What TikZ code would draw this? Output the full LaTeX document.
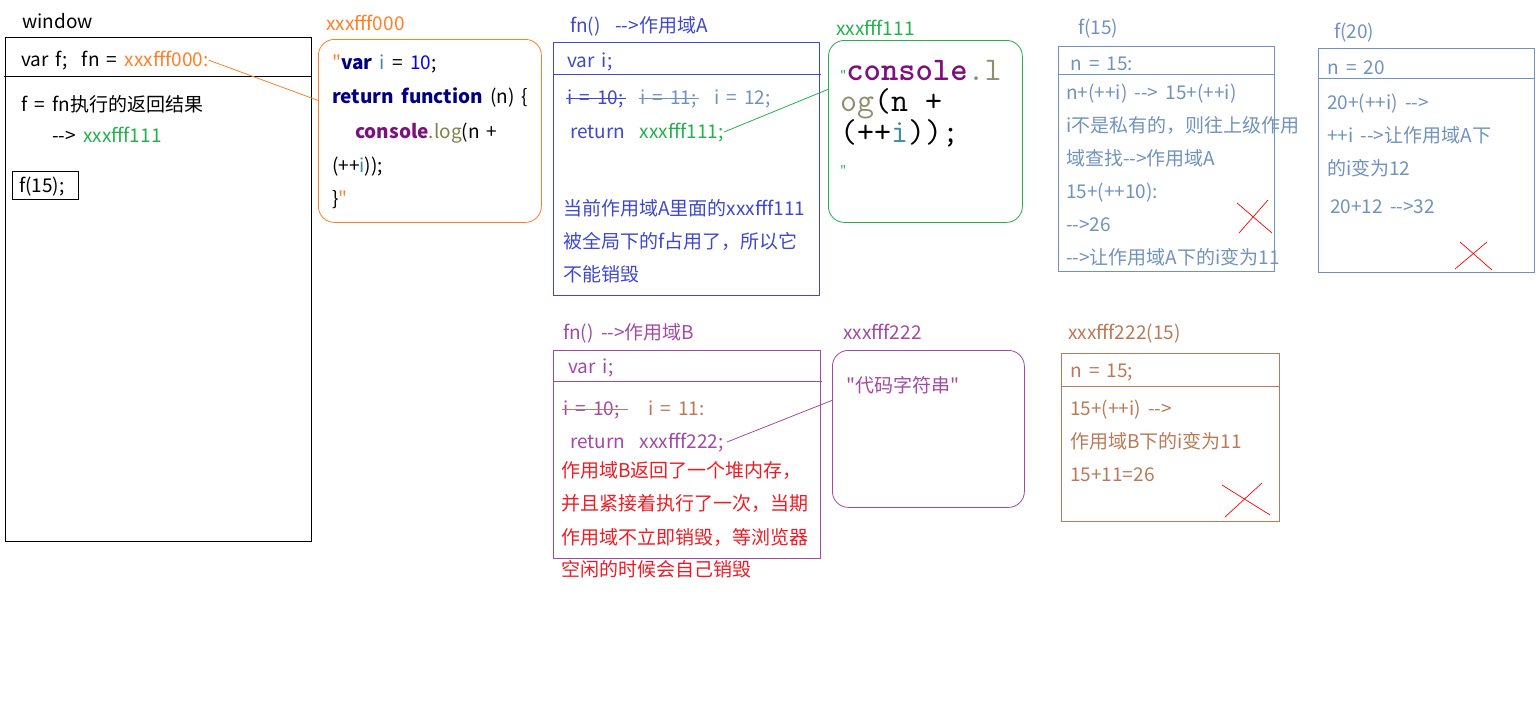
\documentclass[tikz,border=0pt]{standalone}
\usepackage{fontspec}
\setmainfont{Noto Sans CJK SC}
\newfontfamily\cjk{Noto Sans CJK SC}[WordSpace=1.7]
\definecolor{cOrange}{HTML}{FF7F27}
\definecolor{cGreen}{HTML}{22B14C}
\definecolor{cBlue}{HTML}{3F48CC}
\definecolor{cSteel}{HTML}{7092BE}
\definecolor{cPurple}{HTML}{A349A4}
\definecolor{cBrown}{HTML}{B97A57}
\definecolor{cRed}{HTML}{ED1C24}
\definecolor{cNavy}{HTML}{000080}
\definecolor{cKey}{HTML}{7F0E7E}
\definecolor{cOlive}{HTML}{80804A}
\definecolor{cGris}{HTML}{8F8F70}
\definecolor{cTeal}{HTML}{3D8CA5}
\definecolor{cNum}{HTML}{0000FF}
\newcommand\flecha{-{}->}
\tikzset{
  txt/.style={anchor=base west, inner sep=0pt, font=\cjk\fontsize{19}{22}\selectfont},
  codigo/.style={anchor=base west, inner sep=0pt, font=\ttfamily\fontsize{33}{36}\selectfont},
  caja/.style={draw, line width=0.8pt, anchor=north west, inner sep=0pt},
  cruz/.style={draw=red, line width=0.7pt},
  tachar/.style={line width=0.8pt, shorten <=-1pt, shorten >=-2pt},
}
\begin{document}
\begin{tikzpicture}[x=1pt,y=-1pt]
\useasboundingbox (0,0) rectangle (1540,718);
%%%% window
\node[txt] (lwin) at (22,28) {window};
\node[caja, minimum width=306pt, minimum height=504pt] (win) at (5,37) {};
\draw[line width=0.8pt] (4,76) -- (311,76);
\node[txt] (wvar) at (21,66) {var f;\ \ fn = \textcolor{cOrange}{xxxfff000:}};
\node[txt] (wres) at (21,111) {f = fn执行的返回结果};
\node[txt] (wptr) at (52,142) {\flecha{} \textcolor{cGreen}{xxxfff111}};
\node[caja, minimum width=66pt, minimum height=28pt] (wcall) at (12,171) {};
\node[txt] (wcallt) at (19,192) {f(15);};
%%%% xxxfff000
\node[txt, text=cOrange] (lfn) at (326,30) {xxxfff000};
\node[caja, draw=cOrange, rounded corners=16pt, minimum width=223pt, minimum height=183pt] (codeFn) at (318,39) {};
\node[txt] (fn1) at (332,69) {\textcolor{cOrange}{"}\textbf{\textcolor{cNavy}{var}} \textcolor{cTeal}{i} = \textcolor{cNum}{10};};
\node[txt] (fn2) at (332,103) {\textbf{\textcolor{cNavy}{return function}} (n) \{};
\node[txt] (fn3) at (355,138) {\textbf{\textcolor{cKey}{console}}\textcolor{cOlive}{.log}(n +};
\node[txt] (fn4) at (332,172) {(++\textcolor{cTeal}{i}));};
\node[txt] (fn5) at (332,205) {\}\textcolor{cOrange}{"}};
\draw[cOrange, line width=0.8pt] (wvar.east) -- ([yshift=30.5pt]codeFn.west);
%%%% ambito A
\node[txt, text=cBlue] (lA) at (570,32) {fn()\ \ \flecha{}作用域A};
\node[caja, draw=cBlue, minimum width=266pt, minimum height=253pt] (scA) at (553,42) {};
\draw[cBlue, line width=0.8pt] (553,74) -- (821,74);
\node[txt, text=cBlue] (varA) at (567,67) {var i;};
\node[txt, text=cBlue] (a10) at (567,104) {i = 10;};
\draw[cBlue, tachar] (a10.west) -- (a10.east);
\node[txt, text=cSteel] (a11) at (640,104) {i = 11;};
\draw[cSteel, tachar] (a11.west) -- (a11.east);
\node[txt, text=cSteel] (a12) at (714,104) {i = 12;};
\node[txt, text=cBlue] (retA) at (570,138) {return\ \ \textcolor{cGreen}{xxxfff111;}};
\node[txt, text=cBlue] (notaA1) at (563,215) {当前作用域A里面的xxxfff111};
\node[txt, text=cBlue] (notaA2) at (563,248) {被全局下的f占用了，所以它};
\node[txt, text=cBlue] (notaA3) at (563,281) {不能销毁};
%%%% xxxfff111
\node[txt, text=cGreen] (l111) at (836,35) {xxxfff111};
\node[caja, draw=cGreen, rounded corners=16pt, minimum width=194pt, minimum height=182pt] (codeA) at (828,40) {};
\node[codigo] (ca1) at (840,80) {\textcolor{cGreen}{\cjk\fontsize{13}{13}\selectfont"}\textbf{\textcolor{cKey}{console}}\textcolor{cGris}{.l}};
\node[codigo] (ca2) at (840,111) {\textcolor{cGris}{og}(n +};
\node[codigo] (ca3) at (840,142) {(++\textcolor{cTeal}{i}));};
\node[txt, text=cGreen, font=\cjk\fontsize{13}{13}\selectfont] (ca4) at (840,175) {"};
\draw[cGreen, line width=0.8pt] (retA.east) -- ([yshift=42pt]codeA.west);
%%%% f(15)
\node[txt, text=cSteel] (l15) at (1078,34) {f(15)};
\node[caja, draw=cSteel, minimum width=216pt, minimum height=225pt] (f15) at (1058,46) {};
\draw[cSteel, line width=0.8pt] (1058,74) -- (1274,74);
\node[txt, text=cSteel] (n15) at (1070,70) {n = 15:};
\node[txt, text=cSteel] (p1) at (1066,99) {n+(++i) \flecha{} 15+(++i)};
\node[txt, text=cSteel] (p2) at (1066,132) {i不是私有的，则往上级作用};
\node[txt, text=cSteel] (p3) at (1066,165) {域查找\flecha{}作用域A};
\node[txt, text=cSteel] (p4) at (1066,198) {15+(++10):};
\node[txt, text=cSteel] (p5) at (1066,231) {\flecha{}26};
\node[txt, text=cSteel] (p6) at (1066,264) {\flecha{}让作用域A下的i变为11};
\draw[cruz] (1237,203) -- (1272,233);
\draw[cruz] (1268,200) -- (1239,233);
%%%% f(20)
\node[txt, text=cSteel] (l20) at (1334,38) {f(20)};
\node[caja, draw=cSteel, minimum width=216pt, minimum height=224pt] (f20) at (1318,48) {};
\draw[cSteel, line width=0.8pt] (1318,78) -- (1534,78);
\node[txt, text=cSteel] (n20) at (1327,74) {n = 20};
\node[txt, text=cSteel] (q1) at (1327,109) {20+(++i) \flecha{}};
\node[txt, text=cSteel] (q2) at (1327,142) {++i \flecha{}让作用域A下};
\node[txt, text=cSteel] (q3) at (1327,175) {的i变为12};
\node[txt, text=cSteel] (q4) at (1330,213) {20+12 \flecha{}32};
\draw[cruz] (1460,242) -- (1492,270);
\draw[cruz] (1487,242) -- (1455,269);
%%%% ambito B
\node[txt, text=cPurple] (lB) at (563,339) {fn() \flecha{}作用域B};
\node[caja, draw=cPurple, minimum width=267pt, minimum height=208pt] (scB) at (553,350) {};
\draw[cPurple, line width=0.8pt] (553,381) -- (822,381);
\node[txt, text=cPurple] (varB) at (568,373) {var i;};
\node[txt, text=cPurple] (b10) at (563,415) {i = 10;};
\draw[cBrown, tachar] (b10.west) -- ([xshift=6pt]b10.east);
\node[txt, text=cBrown] (b11) at (648,415) {i = 11:};
\node[txt, text=cPurple] (retB) at (570,448) {return\ \ xxxfff222;};
\node[txt, text=cRed] (notaB1) at (561,477) {作用域B返回了一个堆内存，};
\node[txt, text=cRed] (notaB2) at (561,510) {并且紧接着执行了一次，当期};
\node[txt, text=cRed] (notaB3) at (561,544) {作用域不立即销毁，等浏览器};
\node[txt, text=cRed] (notaB4) at (561,576) {空闲的时候会自己销毁};
%%%% xxxfff222
\node[txt, text=cPurple] (l222) at (843,339) {xxxfff222};
\node[caja, draw=cPurple, rounded corners=16pt, minimum width=192pt, minimum height=157pt] (codeB) at (832,350) {};
\node[txt, text=cPurple] (cb1) at (846,392) {"代码字符串"};
\draw[cPurple, line width=0.8pt] ([xshift=3pt]retB.east) -- ([yshift=28.5pt]codeB.west);
%%%% xxxfff222(15)
\node[txt, text=cBrown] (l222b) at (1068,339) {xxxfff222(15)};
\node[caja, draw=cBrown, minimum width=218pt, minimum height=168pt] (fB15) at (1061,353) {};
\draw[cBrown, line width=0.8pt] (1061,386) -- (1279,386);
\node[txt, text=cBrown] (m15) at (1070,377) {n = 15;};
\node[txt, text=cBrown] (r1) at (1070,415) {15+(++i) \flecha{}};
\node[txt, text=cBrown] (r2) at (1070,448) {作用域B下的i变为11};
\node[txt, text=cBrown] (r3) at (1070,481) {15+11=26};
\draw[cruz] (1222,485) -- (1270,515);
\draw[cruz] (1262,483) -- (1225,517);
\end{tikzpicture}
\end{document}
